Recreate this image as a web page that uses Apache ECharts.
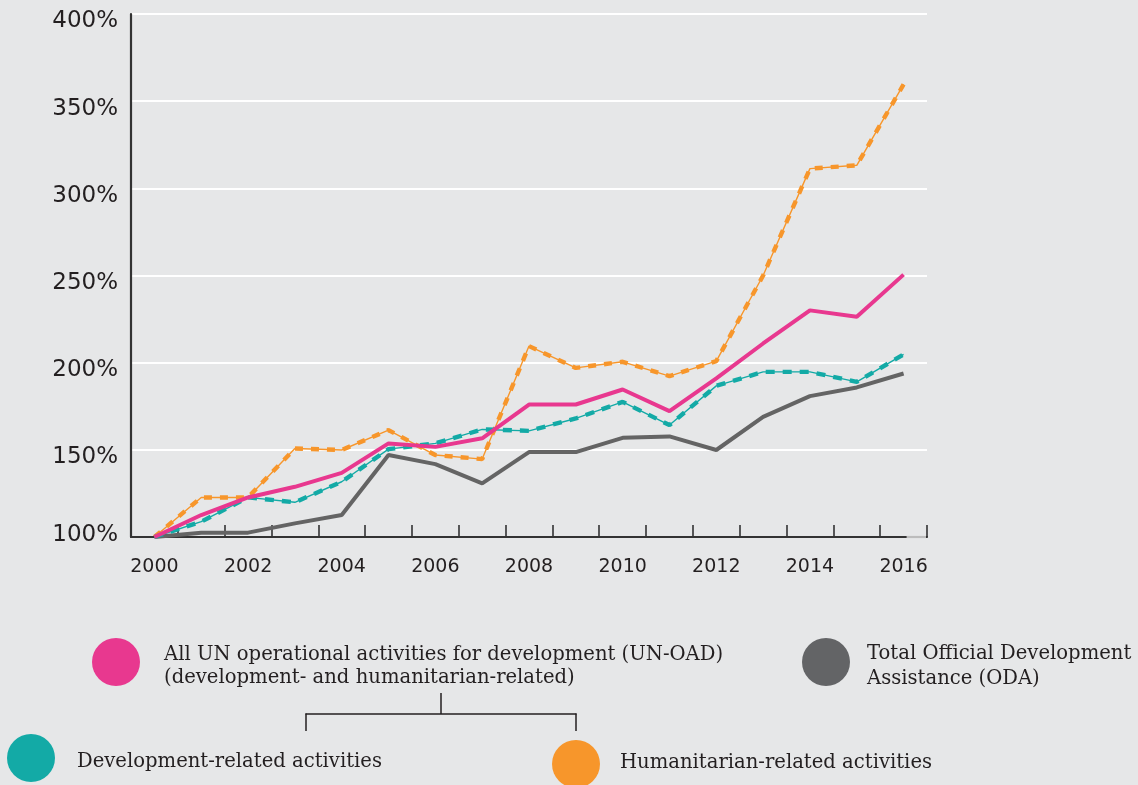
<!DOCTYPE html>
<html>
<head>
<meta charset="utf-8">
<script src="https://cdn.jsdelivr.net/npm/echarts@6/dist/echarts.min.js"></script>
<style>
  html, body { margin: 0; padding: 0; background: #e6e7e8; }
  #chart { width: 1138px; height: 785px; }
</style>
</head>
<body>
<div id="chart"></div>
<script>
// Growth of funding since 2000 (index, 2000 = 100%)
const years = ['2000','2001','2002','2003','2004','2005','2006','2007','2008',
               '2009','2010','2011','2012','2013','2014','2015','2016'];
const unOad        = [100, 112.6, 122.7, 128.8, 136.8, 153.7, 151.7, 156.6, 176, 176, 184.6, 172.2, 191, 211, 230, 226.3, 250.5];
const development  = [100, 108.8, 122.7, 119.9, 131.7, 150.4, 153.7, 161.7, 160.9, 168, 177.5, 164.2, 186.7, 194.7, 194.7, 189, 204.7];
const humanitarian = [100, 122.7, 122.7, 150.8, 149.9, 161.3, 147, 144.7, 209.5, 197, 200.5, 192.3, 200.9, 250, 311.3, 313.2, 359.6];
const oda          = [100, 102.5, 102.5, 107.8, 112.6, 147, 141.8, 130.8, 148.7, 148.7, 156.9, 157.7, 149.9, 168.9, 180.8, 185.8, 193.8];
const yTicks = { min: 100, max: 400, step: 50 };

const PINK = '#e8388f', TEAL = '#13aaa6', ORANGE = '#f7962b', GREY = '#646464';
const INK = '#231f20';
const serif = '"DejaVu Serif", serif';
const sans = '"DejaVu Sans", sans-serif';

const chart = echarts.init(document.getElementById('chart'));

// thin solid line with thick dashes laid over it
function dashedPair(name, data, color, dash) {
  return [
    { name: name, type: 'line', data: data, showSymbol: false, silent: true,
      lineStyle: { color: color, width: 1.4 } },
    { name: name + ' dashes', type: 'line', data: data, showSymbol: false, silent: true,
      lineStyle: { color: color, width: 4.4, type: dash, cap: 'butt' } }
  ];
}

const legendText = (id, x, y, text, lh) => ({
  id: id, type: 'text', left: x, top: y,
  style: { text: text, font: '19.6px ' + serif, fill: INK, lineHeight: lh || 23 }
});
const dot = (id, cx, cy, color) => ({
  id: id, type: 'circle', shape: { cx: cx, cy: cy, r: 24 }, style: { fill: color }
});
const seg = (id, x1, y1, x2, y2) => ({
  id: id, type: 'line', shape: { x1: x1, y1: y1, x2: x2, y2: y2 },
  style: { stroke: INK, lineWidth: 1.5 }
});

chart.setOption({
  backgroundColor: '#e6e7e8',
  animation: false,
  grid: { left: 131, right: 211, top: 14, bottom: 248 },
  xAxis: {
    type: 'category',
    data: years,
    boundaryGap: true,
    axisLine: { show: true, lineStyle: { color: '#333333', width: 2.2 } },
    axisTick: { show: true, inside: true, length: 12, interval: 0, lineStyle: { color: '#333333', width: 1.6 } },
    axisLabel: { interval: 1, margin: 21, color: INK, fontSize: 19, fontFamily: sans },
    splitLine: { show: false }
  },
  yAxis: {
    type: 'value',
    min: yTicks.min, max: yTicks.max, interval: yTicks.step,
    axisLine: { show: true, lineStyle: { color: '#333333', width: 2.2 } },
    axisTick: { show: false },
    splitLine: { lineStyle: { color: '#ffffff', width: 2 } },
    axisLabel: {
      margin: 13,
      color: INK,
      fontSize: 23,
      fontFamily: sans,
      formatter: v => (v === yTicks.min ? '{b|' + v + '%}' : '{a|' + v + '%}'),
      rich: {
        a: { fontSize: 23, color: INK, fontFamily: sans, padding: [15, 0, 0, 0] },
        b: { fontSize: 23, color: INK, fontFamily: sans, padding: [0, 0, 3, 0] }
      }
    }
  },
  series: [
    { name: 'Total Official Development Assistance (ODA)', type: 'line', data: oda,
      showSymbol: false, silent: true, lineStyle: { color: GREY, width: 4 } },
    ...dashedPair('Humanitarian-related activities', humanitarian, ORANGE, [8, 8]),
    ...dashedPair('Development-related activities', development, TEAL, [9, 8]),
    { name: 'All UN operational activities for development (UN-OAD)', type: 'line', data: unOad,
      showSymbol: false, silent: true, lineStyle: { color: PINK, width: 4 } }
  ],
  graphic: [
    dot('dotPink', 116, 662, PINK),
    legendText('txtPink', 164, 643, 'All UN operational activities for development (UN-OAD)\n(development- and humanitarian-related)'),
    dot('dotGrey', 826, 662, '#636466'),
    legendText('txtGrey', 867, 641, 'Total Official Development\nAssistance (ODA)', 25),
    seg('brStem', 441, 693, 441, 714),
    seg('brBar', 305.5, 714, 576.5, 714),
    seg('brLeft', 306, 713.5, 306, 731),
    seg('brRight', 576, 713.5, 576, 731),
    dot('dotTeal', 31, 758, TEAL),
    legendText('txtTeal', 77, 750, 'Development-related activities'),
    dot('dotOrange', 576, 764, ORANGE),
    legendText('txtOrange', 620, 751, 'Humanitarian-related activities')
  ]
});

// lighter end piece of the category axis past the last year
const lastX = chart.convertToPixel({ xAxisIndex: 0 }, years[years.length - 1]);
const axisY = chart.convertToPixel({ yAxisIndex: 0 }, yTicks.min);
const rightX = 1138 - 211;
chart.setOption({
  graphic: [{
    id: 'axisEnd', type: 'line', z: 10,
    shape: { x1: lastX + 3, y1: axisY, x2: rightX - 1, y2: axisY },
    style: { stroke: '#bcbcbc', lineWidth: 2.2 }
  }]
});
</script>
</body>
</html>
